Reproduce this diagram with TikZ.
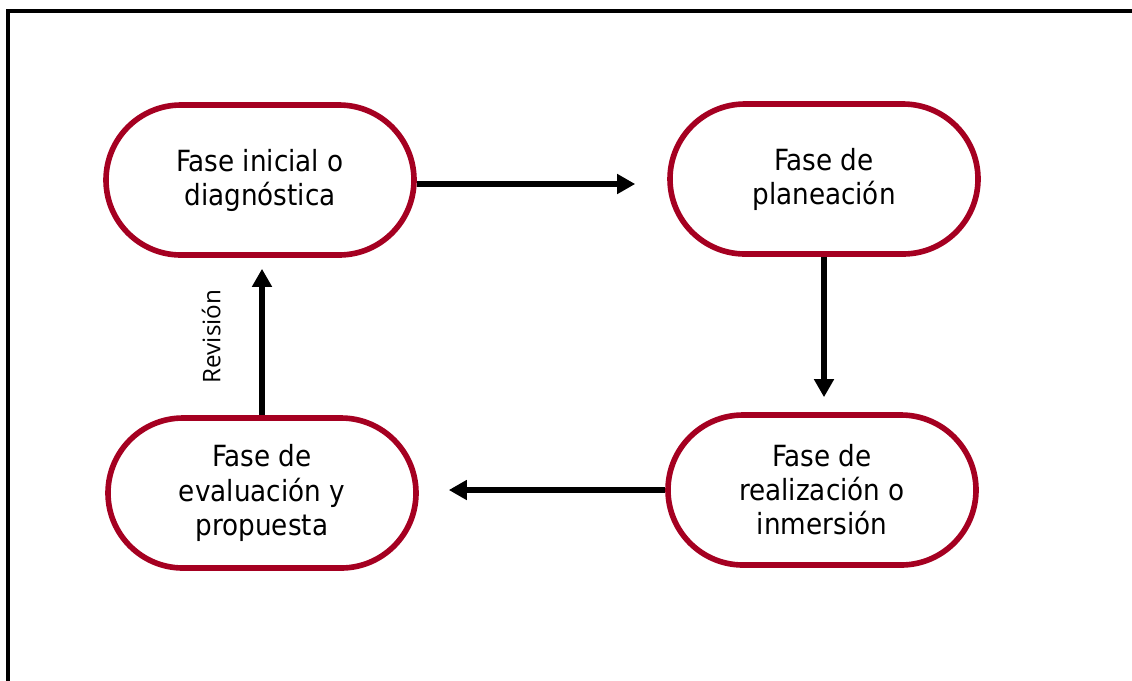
\documentclass[tikz,border=0pt]{standalone}
\usepackage{fontspec}
\setmainfont{DejaVu Sans Condensed}
\newfontfamily\revfont{Open Sans}
\usetikzlibrary{arrows.meta}
\definecolor{faseborde}{HTML}{A50021}

\begin{document}
\begin{tikzpicture}[
        fase/.style={draw=faseborde, line width=1.6pt, rounded corners=0.75cm,
            minimum width=3.08cm, minimum height=1.5cm, align=center,
            font=\fontsize{8.3}{9.7}\selectfont},
        flujo/.style={line width=1.5pt, -{Triangle[length=0.18cm, width=0.19cm]}}
    ]
        \useasboundingbox (0, 0) rectangle (11.32, 6.8);
        \draw[line width=1.1pt] (0.08, -0.5) rectangle (11.6, 6.69);

        \node[fase] (diagnostico) at (2.60, 5.00) {Fase inicial o\\diagnóstica};
        \node[fase] (planeacion) at (8.24, 5.01) {Fase de\\planeación};
        \node[fase] (realizacion) at (8.22, 1.90) {Fase de\\realización o\\inmersión};
        \node[fase] (evaluacion) at (2.62, 1.87) {Fase de\\evaluación y\\propuesta};

        \draw[flujo, shorten >=0.32cm] ([yshift=-0.04cm]diagnostico.east) -- ([yshift=-0.04cm]diagnostico.east -| planeacion.west);
        \draw[flujo, shorten >=0.15cm] (planeacion.south) -- (planeacion.south |- realizacion.north);
        \draw[flujo, shorten >=0.30cm] (realizacion.west) -- (realizacion.west -| evaluacion.east);
        \draw[flujo, shorten >=0.11cm] (evaluacion.north) -- node[midway, sloped, above=0.27cm, font=\revfont\fontsize{6.9}{8}\selectfont] (revision) {Revisión} (evaluacion.north |- diagnostico.south);

    \end{tikzpicture}
\end{document}
